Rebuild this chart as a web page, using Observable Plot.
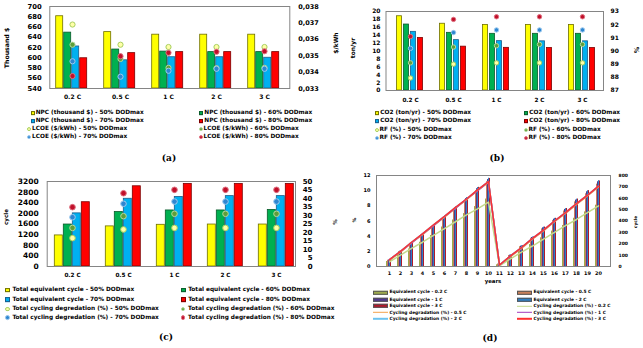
<!DOCTYPE html>
<html><head><meta charset="utf-8">
<script src="https://cdn.jsdelivr.net/npm/d3@7"></script>
<script src="https://cdn.jsdelivr.net/npm/@observablehq/plot@0.6"></script>
<style>
html,body{margin:0;padding:0;background:#fff;}
#fig{position:relative;width:643px;height:348px;overflow:hidden;font-family:"DejaVu Sans",sans-serif;font-weight:bold;color:#000;background:#fff;}
#fig svg{position:absolute;left:0;top:0;}
.t{position:absolute;white-space:nowrap;line-height:1;}
.leg{position:absolute;white-space:nowrap;display:flex;align-items:center;line-height:1;transform:translateY(-50%);}
.cap{position:absolute;font-family:"DejaVu Serif",serif;font-weight:bold;transform:translate(-50%,-50%);line-height:1;white-space:nowrap;}
</style></head><body><div id="fig"></div>
<script>
// ---------- DATA ----------
const cats = ["0.2 C", "0.5 C", "1 C", "2 C", "3 C"];
const dods = ["50% DODmax", "60% DODmax", "70% DODmax", "80% DODmax"];

// (a) NPC (thousand $) and LCOE ($/kWh)
const npc50 = [681, 650, 645, 645, 645];
const npc60 = [649, 616, 612, 611, 611];
const npc70 = [622, 595, 601, 601, 600];
const npc80 = [599, 609, 611, 611, 611];
const lcoe50 = [0.03690, 0.03567, 0.03553, 0.03553, 0.03553];
const lcoe60 = [0.03567, 0.03480, 0.03426, 0.03424, 0.03426];
const lcoe70 = [0.03466, 0.03372, 0.03408, 0.03420, 0.03420];
const lcoe80 = [0.03376, 0.03497, 0.03518, 0.03524, 0.03527];
const npcTicks = [540, 560, 580, 600, 620, 640, 660, 680, 700];
const lcoeTicks = [0.033, 0.034, 0.035, 0.036, 0.037, 0.038];

// (b) CO2 (ton/yr) and RF (%)
const co2_50 = [18.8, 16.9, 16.6, 16.6, 16.6];
const co2_60 = [16.7, 14.6, 14.35, 14.35, 14.35];
const co2_70 = [14.85, 12.75, 12.5, 12.45, 12.45];
const co2_80 = [13.3, 11.1, 10.8, 10.75, 10.75];
const rf50 = [87.95, 89.0, 89.1, 89.1, 89.1];
const rf60 = [89.1, 90.3, 90.4, 90.5, 90.5];
const rf70 = [90.2, 91.4, 91.6, 91.6, 91.6];
const rf80 = [91.1, 92.4, 92.6, 92.6, 92.6];
const co2Ticks = [0, 2, 4, 6, 8, 10, 12, 14, 16, 18, 20];
const rfTicks = [87, 88, 89, 90, 91, 92, 93];

// (c) Total equivalent cycle and total cycling degradation (%)
const cyc50 = [1170, 1510, 1570, 1580, 1580];
const cyc60 = [1580, 2050, 2110, 2110, 2130];
const cyc70 = [2000, 2550, 2620, 2650, 2650];
const cyc80 = [2420, 3020, 3110, 3110, 3110];
const tdeg50 = [16.7, 21.8, 22.7, 22.7, 22.7];
const tdeg60 = [22.7, 29.6, 31.0, 31.0, 31.0];
const tdeg70 = [29.0, 36.9, 38.2, 38.2, 38.2];
const tdeg80 = [34.9, 43.1, 45.1, 45.1, 45.1];
const cycTicks = [0, 400, 800, 1200, 1600, 2000, 2400, 2800, 3200];
const tdegTicks = [0, 5, 10, 15, 20, 25, 30, 35, 40, 45, 50];

// (d) yearly equivalent cycle and cycling degradation (%)
const years = [1, 2, 3, 4, 5, 6, 7, 8, 9, 10, 11, 12, 13, 14, 15, 16, 17, 18, 19, 20];
const rates = ["0.2 C", "0.5 C", "1 C", "2 C", "3 C"];
const ec02 = [44, 104, 154, 213, 273, 347, 409, 465, 527, 593, 15, 74, 133, 193, 252, 311, 361, 424, 480, 539];
const ec05 = [55, 131, 203, 276, 350, 428, 506, 584, 668, 746, 22, 97, 174, 248, 331, 405, 488, 568, 639, 724];
const ec1 = [57, 135, 208, 282, 357, 437, 518, 597, 684, 764, 23, 100, 179, 255, 340, 416, 502, 584, 657, 745];
const ec2 = [58, 138, 212, 286, 363, 443, 526, 606, 694, 776, 24, 103, 183, 260, 346, 423, 509, 592, 666, 755];
const ec3 = [59, 139, 213, 287, 364, 444, 527, 607, 696, 774, 24, 104, 184, 261, 347, 424, 510, 593, 667, 752];
const cd02 = [0.6, 1.5, 2.4, 3.2, 4.1, 5.0, 5.9, 6.8, 7.6, 8.5, 0.1, 1.0, 1.9, 2.7, 3.6, 4.5, 5.4, 6.2, 7.1, 8.0];
const cd05 = [0.8, 1.9, 3.1, 4.2, 5.4, 6.5, 7.7, 8.8, 10.0, 11.1, 0.2, 1.3, 2.4, 3.6, 4.7, 5.9, 7.0, 8.2, 9.3, 10.5];
const cd1 = [0.9, 2.0, 3.1, 4.3, 5.4, 6.6, 7.7, 8.9, 10.0, 11.2, 0.2, 1.4, 2.5, 3.7, 4.8, 6.0, 7.1, 8.3, 9.4, 10.6];
const cd2 = [0.9, 2.0, 3.2, 4.3, 5.5, 6.6, 7.8, 8.9, 10.1, 11.2, 0.2, 1.4, 2.5, 3.7, 4.8, 6.0, 7.1, 8.3, 9.4, 10.6];
const cd3 = [0.9, 2.0, 3.2, 4.3, 5.5, 6.6, 7.8, 8.9, 10.1, 11.2, 0.2, 1.4, 2.5, 3.7, 4.8, 6.0, 7.1, 8.3, 9.4, 10.6];
const pctTicks = [0, 2, 4, 6, 8, 10, 12];
const ecTicks = [0, 100, 200, 300, 400, 500, 600, 700, 800];

// ---------- STYLES ----------
const barFill = ["#FFFF00", "#00B050", "#00B0F0", "#FF0000"];
const barStroke = ["#6E6E00", "#0B5A2A", "#1B5E8C", "#7A0000"];
const dotFill = ["#FFFFA8", "#5E9E3A", "#2E86D1", "#C0102A"];
const dotStroke = ["#A8CF60", "#B5D99C", "#9CC9EE", "#E07080"];
const ecFill = ["#9DAA4C", "#C9805A", "#50398F", "#2D7FC4", "#B0182A"];
const cdStroke = ["#C4DA8C", "#F4A24B", "#A23BBD", "#6CC3F0", "#FF3030"];

// ---------- HELPERS ----------
const fig = document.getElementById("fig");
const W = 643, H = 348;
const base = {width: W, height: H, style: {background: "transparent", overflow: "visible", fontFamily: "DejaVu Sans"}};
const marg = f => ({marginLeft: f.l, marginRight: W - f.r, marginTop: f.t, marginBottom: H - f.b});
function bandCenters(domain, range, pi, po) {
  const s = d3.scaleBand(domain, range).paddingInner(pi).paddingOuter(po);
  return domain.map(d => s(d) + s.bandwidth() / 2);
}
function rowsOf(keys, series, arrays) {
  const out = [];
  keys.forEach((k, i) => series.forEach((s, j) => out.push({cat: k, s, j, v: arrays[j][i]})));
  return out;
}
const add = el => fig.appendChild(el);
const fmtInt = d => String(d);

function barLayer(cfg, rows, yDomain) {
  return Plot.plot({...base, ...marg(cfg.frame),
    facet: {data: rows, x: "cat"},
    fx: {domain: cfg.keys, range: cfg.fx, paddingInner: cfg.pi, paddingOuter: cfg.po, axis: null, label: null},
    x: {domain: cfg.series, paddingInner: cfg.xPad, paddingOuter: 0, axis: null, label: null},
    y: {domain: yDomain, axis: null, label: null},
    color: {type: "identity"},
    marks: [Plot.barY(rows, {x: "s", y1: yDomain[0], y2: "v",
      fill: d => cfg.fill[d.j], stroke: cfg.stroke ? (d => cfg.stroke[d.j]) : "none", strokeWidth: cfg.sw})]
  });
}
function pointX(cfg) {
  const c = bandCenters(cfg.keys, cfg.fx, cfg.pi, cfg.po);
  return {type: "point", domain: cfg.keys, range: [c[0], c[c.length - 1]], padding: 0, axis: null, label: null};
}
function primaryLayer(cfg, yDomain, yTicks, o) {
  return Plot.plot({...base, ...marg(cfg.frame),
    x: pointX(cfg),
    y: {domain: yDomain, axis: null, label: null},
    color: {type: "identity"},
    marks: [
      Plot.frame({stroke: "#858585", strokeWidth: 1}),
      Plot.axisY(yTicks, {anchor: "left", tickSize: 0, tickPadding: o.lp, fontSize: o.lf, fontWeight: "bold", fill: "#000", label: null, tickFormat: o.lfmt || fmtInt}),
      Plot.axisX(cfg.keys, {anchor: "bottom", tickSize: 0, tickPadding: o.bp, fontSize: o.bf, fontWeight: "bold", fill: "#000", label: null, tickFormat: d => String(d)})
    ]
  });
}
function secondaryLayer(cfg, yDomain, yTicks, o, marks = []) {
  const ax = {anchor: "right", tickSize: 0, tickPadding: o.rp, fontSize: o.rf, fontWeight: "bold", fill: "#000", label: null, tickFormat: o.rfmt || fmtInt};
  if (o.rAnchor) ax.textAnchor = o.rAnchor;
  return Plot.plot({...base, ...marg(cfg.frame),
    x: pointX(cfg),
    y: {domain: yDomain, axis: null, label: null},
    color: {type: "identity"},
    marks: [Plot.axisY(yTicks, ax), ...marks]
  });
}
function dotMark(rows, r) {
  return Plot.dot(rows, {x: "cat", y: "v", r, fill: d => dotFill[d.j], stroke: d => dotStroke[d.j], strokeWidth: 1});
}
function text(x, y, s, size, rot) {
  const el = document.createElement("div");
  el.className = "t"; el.textContent = s;
  el.style.left = x + "px"; el.style.top = y + "px"; el.style.fontSize = size + "px";
  el.style.transform = rot ? "translate(-50%,-50%) rotate(-90deg)" : "translate(-50%,-50%)";
  add(el);
}
function caption(x, y, s, size) {
  const el = document.createElement("div");
  el.className = "cap"; el.textContent = s;
  el.style.left = x + "px"; el.style.top = y + "px"; el.style.fontSize = size + "px";
  add(el);
}
function legend(x, y, kind, fill, stroke, label, size, w, h, gap) {
  const el = document.createElement("div");
  el.className = "leg";
  el.style.left = x + "px"; el.style.top = y + "px"; el.style.fontSize = size + "px";
  const sw = document.createElement("span");
  let css = `display:inline-block;flex:none;box-sizing:border-box;width:${w}px;height:${h}px;background:${fill};margin-right:${gap}px;`;
  if (kind === "box") css += `border:0.8px solid ${stroke};`;
  if (kind === "dot") css += `border:1px solid ${stroke};border-radius:50%;`;
  sw.style.cssText = css;
  el.appendChild(sw);
  el.appendChild(document.createTextNode(label));
  add(el);
}

// ---------- PANEL (a) ----------
const cfgA = {keys: cats, series: dods, frame: {l: 49.3, r: 289.3, t: 6, b: 88}, fx: [52.7, 282.3], pi: 0.306, po: 0, xPad: 0.15,
  fill: barFill, stroke: barStroke, sw: 0.8};
const rowsA = rowsOf(cats, dods, [npc50, npc60, npc70, npc80]);
const dotsA = rowsOf(cats, dods, [lcoe50, lcoe60, lcoe70, lcoe80]);
add(barLayer(cfgA, rowsA, [540, 700]));
add(primaryLayer(cfgA, [540, 700], npcTicks, {lp: 8, lf: 6.8, bp: 6.6, bf: 6}));
add(secondaryLayer(cfgA, [0.033, 0.038], lcoeTicks, {rp: 8.5, rf: 6.5, rfmt: d => d.toFixed(3).replace(".", ",")}, [dotMark(dotsA, 2.6)]));
text(7, 48, "Thousand $", 6.2, true);
text(335.5, 43, "$/kWh", 6, true);
[["NPC (thousand $) - ", 0, 30.7, 113], ["NPC (thousand $) - ", 1, 199.3, 113], ["NPC (thousand $) - ", 2, 30.7, 120.8], ["NPC (thousand $) - ", 3, 199.3, 120.8]]
  .forEach(([p, j, x, y]) => legend(x, y, "box", barFill[j], barStroke[j], p + dods[j], 5.8, 4, 4, 1));
[["LCOE ($/kWh) - ", 0, 27, 129], ["LCOE ($/kWh) - ", 1, 198.5, 129], ["LCOE ($/kWh) - ", 2, 27, 137], ["LCOE ($/kWh) - ", 3, 198.5, 137]]
  .forEach(([p, j, x, y]) => legend(x, y, "dot", dotFill[j], dotStroke[j], p + dods[j], 5.8, 4, 4, 1));
caption(169, 158, "(a)", 9);

// ---------- PANEL (b) ----------
const cfgB = {keys: cats, series: dods, frame: {l: 385.5, r: 603, t: 11, b: 90}, fx: [394.3, 597], pi: 0.305, po: 0, xPad: 0.22,
  fill: barFill, stroke: barStroke, sw: 0.8};
const rowsB = rowsOf(cats, dods, [co2_50, co2_60, co2_70, co2_80]);
const dotsB = rowsOf(cats, dods, [rf50, rf60, rf70, rf80]);
add(barLayer(cfgB, rowsB, [0, 20]));
add(primaryLayer(cfgB, [0, 20], co2Ticks, {lp: 5.5, lf: 6, bp: 7, bf: 5.7}));
add(secondaryLayer(cfgB, [87, 93], rfTicks, {rp: 7, rf: 6}, [dotMark(dotsB, 2.2)]));
text(353, 47.5, "ton/yr", 6, true);
text(637, 50, "%", 6.5, true);
[["CO2 (ton/yr) - ", 0, 375, 113], ["CO2 (ton/yr) - ", 1, 524, 113], ["CO2 (ton/yr) - ", 2, 375, 121.3], ["CO2 (ton/yr) - ", 3, 524, 121.3]]
  .forEach(([p, j, x, y]) => legend(x, y, "box", barFill[j], barStroke[j], p + dods[j], 5.8, 4.3, 4, 1));
[["RF (%) - ", 0, 374.5, 130], ["RF (%) - ", 1, 523.5, 130], ["RF (%) - ", 2, 374.5, 138.3], ["RF (%) - ", 3, 523.5, 138.3]]
  .forEach(([p, j, x, y]) => legend(x, y, "dot", dotFill[j], dotStroke[j], p + dods[j], 5.8, 4, 4, 1));
caption(497, 158, "(b)", 9);

// ---------- PANEL (c) ----------
const cfgC = {keys: cats, series: dods, frame: {l: 46.7, r: 295, t: 181, b: 266}, fx: [53.3, 294.5], pi: 0.30, po: 0, xPad: 0.15,
  fill: barFill, stroke: barStroke, sw: 0.8};
const rowsC = rowsOf(cats, dods, [cyc50, cyc60, cyc70, cyc80]);
const dotsC = rowsOf(cats, dods, [tdeg50, tdeg60, tdeg70, tdeg80]);
add(barLayer(cfgC, rowsC, [0, 3200]));
add(primaryLayer(cfgC, [0, 3200], cycTicks, {lp: 8.5, lf: 7.5, bp: 6, bf: 5.7}));
add(secondaryLayer(cfgC, [0, 50], tdegTicks, {rp: 17, rf: 7, rAnchor: "end"}, [dotMark(dotsC, 2.8)]));
text(7, 217, "cycle", 5.6, true);
[["Total equivalent cycle - ", 0, 5, 290], ["Total equivalent cycle - ", 1, 180.7, 290], ["Total equivalent cycle - ", 2, 5, 299.7], ["Total equivalent cycle - ", 3, 180.7, 299.7]]
  .forEach(([p, j, x, y]) => legend(x, y, "box", barFill[j], barStroke[j], p + dods[j], 5.8, 5, 4.6, 2.5));
[["Total cycling degredation (%) - ", 0, 5, 309], ["Total cycling degredation (%) - ", 1, 180.7, 309], ["Total cycling degredation (%) - ", 2, 5, 317.8], ["Total cycling degredation (%) - ", 3, 180.7, 317.8]]
  .forEach(([p, j, x, y]) => legend(x, y, "dot", dotFill[j], dotStroke[j], p + dods[j], 5.8, 4.6, 4.6, 2.8));
caption(166, 337, "(c)", 9);

// ---------- PANEL (d) ----------
const cfgD = {keys: years, series: rates, frame: {l: 376, r: 610, t: 175, b: 266}, fx: [376, 610], pi: 0.15, po: 0.075, xPad: 0,
  fill: ecFill, stroke: null, sw: 0};
const rowsD = rowsOf(years, rates, [ec02, ec05, ec1, ec2, ec3]);
const linesD = rowsOf(years, rates, [cd02, cd05, cd1, cd2, cd3]);
add(barLayer(cfgD, rowsD, [0, 800]));
add(primaryLayer(cfgD, [0, 12], pctTicks, {lp: 6, lf: 5, bp: 5.2, bf: 4.9}));
add(Plot.plot({...base, ...marg(cfgD.frame), x: pointX(cfgD), y: {domain: [0, 12], axis: null, label: null}, color: {type: "identity"},
  marks: [Plot.line(linesD, {x: "cat", y: "v", z: "s", stroke: d => cdStroke[d.j], strokeWidth: 1.5})]}));
add(secondaryLayer(cfgD, [0, 800], ecTicks, {rp: 8, rf: 4.5}));
text(493, 282, "years", 5.4, false);
text(335.5, 222, "%", 5.5, true);
text(354.5, 220, "%", 4.8, true);
text(635.5, 222, "cycle", 4.3, true);
const ecLab = r => "Equivalent cycle - " + r;
const cdLab = r => "Cycling degradation (%) - " + r;
const dLegend = [
  ["band", 0, ecLab(rates[0]), 373, 292.3], ["band", 1, ecLab(rates[1]), 517, 292.3],
  ["band", 2, ecLab(rates[2]), 373, 299.5], ["band", 3, ecLab(rates[3]), 517, 299.5],
  ["band", 4, ecLab(rates[4]), 373, 306.2], ["line", 0, cdLab(rates[0]), 517, 306.2],
  ["line", 1, cdLab(rates[1]), 373, 312.6], ["line", 2, cdLab(rates[2]), 517, 312.6],
  ["line", 3, cdLab(rates[3]), 373, 318.8], ["line", 4, cdLab(rates[4]), 517, 318.8]
];
dLegend.forEach(([k, j, lab, x, y]) => {
  if (k === "band") legend(x, y, "box", ecFill[j], "#555", lab, 4.4, 15, 4, 1.5);
  else legend(x, y, "line", cdStroke[j], cdStroke[j], lab, 4.4, 15, 1.4, 1.5);
});
caption(490, 338, "(d)", 9);
</script></body></html>
